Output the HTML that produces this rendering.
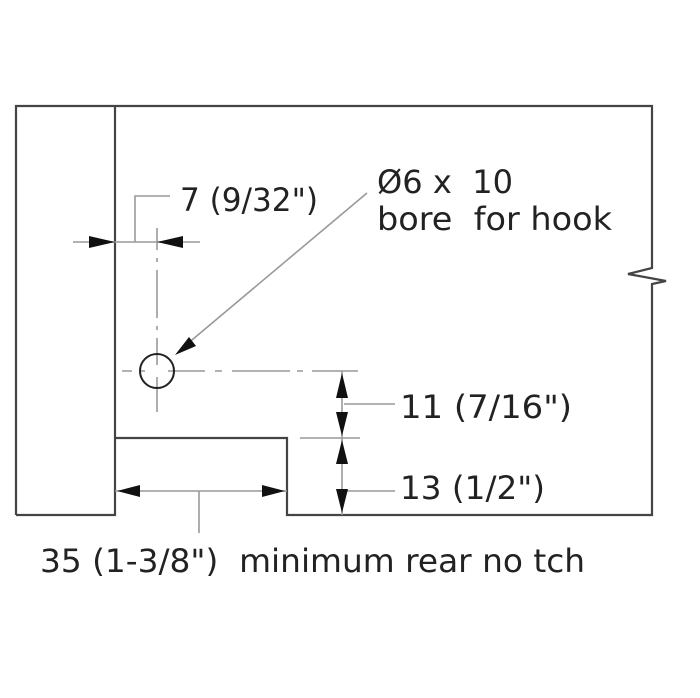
<!DOCTYPE html>
<html><head><style>
html,body{margin:0;padding:0;background:#fff;}
svg{display:block}
text{font-family:"DejaVu Sans","Liberation Sans",sans-serif;fill:#222;white-space:pre;}
</style></head><body>
<svg width="700" height="698" viewBox="0 0 700 698">
<g stroke="#444" stroke-width="2.2" fill="none">
<path d="M16 515 L16 106 L652 106 L652 268 L628 274 L666 281 L652 284 L652 515 L287 515 L287 438 L115 438"/>
<path d="M115 106 L115 515 L16 515"/>
</g>
<g stroke="#999" stroke-width="1.6" fill="none">
<path d="M122 371 H132 M140 371 H145 M168 371 H205 M215 371 H222 M232 371 H290 M297 371 H303 M312 371 H358" />
<path d="M157 228 V250 M157 258 V262 M157 270 V318 M157 326 V330 M157 338 V365 M157 377 V412"/>
<path d="M73 242 H200"/>
<path d="M135 242 V196 H170"/>
<path d="M300 438 H360"/>
<path d="M342 371 V515"/>
<path d="M344 404 H395 M344 491 H395"/>
<path d="M115 491 H287 M199 491 V533"/>
<path d="M367 193 L180 350"/>
</g>
<circle cx="157" cy="371" r="17" stroke="#222" stroke-width="2" fill="none"/>
<g fill="#111">
<polygon points="115,242 89,236 89,248"/>
<polygon points="157,242 183,236 183,248"/>
<polygon points="175,355 189,337 196,346"/>
<polygon points="342,373 336,398 348,398"/>
<polygon points="342,436 336,412 348,412"/>
<polygon points="342,440 336,464 348,464"/>
<polygon points="342,513 336,489 348,489"/>
<polygon points="117,491 140,485 140,497"/>
<polygon points="285,491 262,485 262,497"/>
</g>
<text x="180" y="211" font-size="32" textLength="138" lengthAdjust="spacingAndGlyphs">7 (9/32")</text>
<text x="377" y="193" font-size="32" textLength="136" lengthAdjust="spacingAndGlyphs" xml:space="preserve">Ø6 x  10</text>
<text x="377" y="230" font-size="32" textLength="235" lengthAdjust="spacingAndGlyphs" xml:space="preserve">bore  for hook</text>
<text x="400" y="418" font-size="32" textLength="172" lengthAdjust="spacingAndGlyphs" xml:space="preserve">11 (7/16")</text>
<text x="400" y="499" font-size="32" textLength="145" lengthAdjust="spacingAndGlyphs" xml:space="preserve">13 (1/2")</text>
<text x="40" y="572" font-size="32" textLength="545" lengthAdjust="spacingAndGlyphs" xml:space="preserve">35 (1-3/8")  minimum rear no tch</text>
</svg>
</body></html>
